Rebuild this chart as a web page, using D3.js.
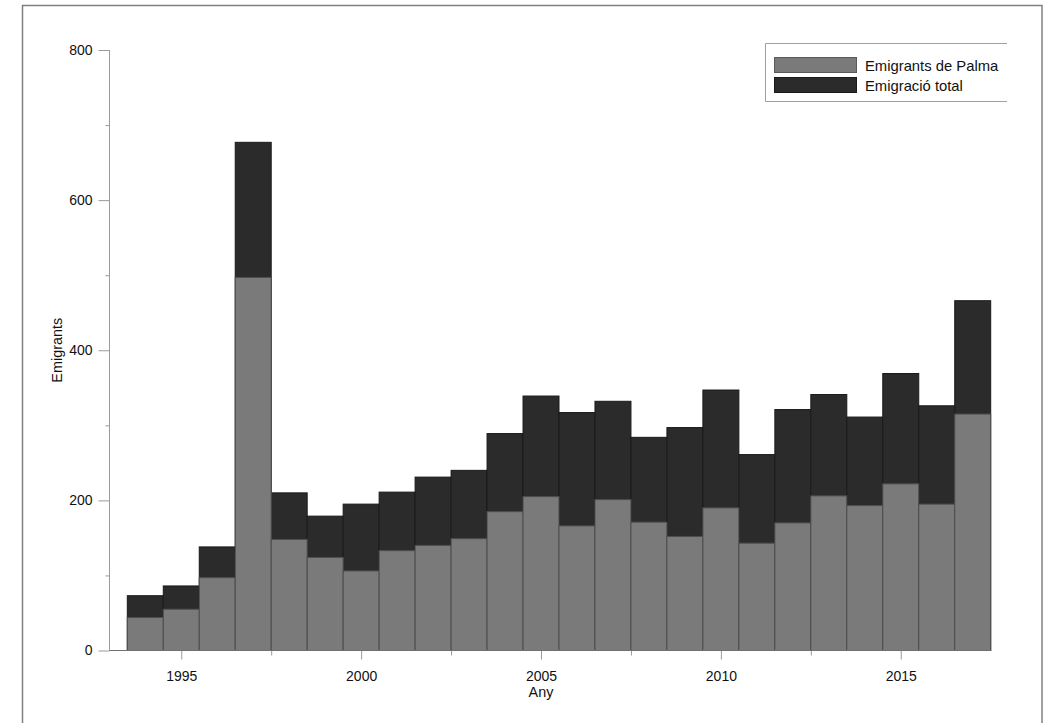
<!DOCTYPE html>
<html>
<head>
<meta charset="utf-8">
<script src="https://cdn.jsdelivr.net/npm/d3@7/dist/d3.min.js"></script>
<style>
  html, body { margin: 0; padding: 0; background: #fff; }
  svg { display: block; font-family: "Liberation Sans", Arial, sans-serif; }
</style>
</head>
<body>
<svg id="chart" width="1046" height="723"></svg>
<script>
// ---- data ----
const years = [1994,1995,1996,1997,1998,1999,2000,2001,2002,2003,2004,2005,2006,2007,2008,2009,2010,2011,2012,2013,2014,2015,2016,2017];
const totalEmigration = [73,86,138,677,210,179,195,211,231,240,289,339,317,332,284,297,347,261,321,341,311,369,326,466];
const palmaEmigrants = [44,55,97,497,148,124,106,133,140,149,185,205,166,201,171,152,190,143,170,206,193,222,195,315];
const seriesNames = ["Emigrants de Palma", "Emigració total"];
const yTicks = [0, 200, 400, 600, 800];
const yMinorTicks = [100, 300, 500, 700];
const xTicks = [1995, 2000, 2005, 2010, 2015];
const xMinorTicks = [1997.5, 2002.5, 2007.5, 2012.5];
const yTitle = "Emigrants";
const xTitle = "Any";

const colPalma = "#7a7a7a";
const colTotal = "#2b2b2b";
const axisCol = "#9a9a9a";

const svg = d3.select("#chart");

// outer frame
svg.append("rect")
  .attr("x", 22.5).attr("y", 5.5)
  .attr("width", 1019.5).attr("height", 730)
  .attr("fill", "none").attr("stroke", "#808080").attr("stroke-width", 1.5);

const x = d3.scaleLinear().domain([1993.5, 2017.5]).range([127.3, 990.7]);
const y = d3.scaleLinear().domain([0, 800]).range([650.5, 50]);

// bars: total (dark) then Palma (grey) overlaid
const g = svg.append("g");
g.selectAll("rect.total")
  .data(years.map((yr, i) => ({yr, v: totalEmigration[i]})))
  .join("rect").attr("class", "total")
  .attr("x", d => x(d.yr - 0.5)).attr("width", d => x(d.yr + 0.5) - x(d.yr - 0.5))
  .attr("y", d => y(d.v)).attr("height", d => y(0) - y(d.v))
  .attr("fill", colTotal).attr("stroke", "#1a1a1a").attr("stroke-width", 1);

g.selectAll("rect.palma")
  .data(years.map((yr, i) => ({yr, v: palmaEmigrants[i]})))
  .join("rect").attr("class", "palma")
  .attr("x", d => x(d.yr - 0.5)).attr("width", d => x(d.yr + 0.5) - x(d.yr - 0.5))
  .attr("y", d => y(d.v)).attr("height", d => y(0) - y(d.v))
  .attr("fill", colPalma).attr("stroke", "#4e4e4e").attr("stroke-width", 1);

// y axis
const yAxisX = 109.5;
const yAx = svg.append("g").attr("transform", `translate(${yAxisX},0)`)
  .call(d3.axisLeft(y).tickValues(yTicks).tickSize(11).tickPadding(6).tickFormat(d3.format("d")));
yAx.select(".domain").remove();
yAx.selectAll(".tick line").attr("stroke", axisCol);
yAx.selectAll(".tick text").attr("fill", "#111").style("font-size", "14px").style("font-family", "'Liberation Sans', Arial, sans-serif");
const yMin = svg.append("g").attr("transform", `translate(${yAxisX},0)`)
  .call(d3.axisLeft(y).tickValues(yMinorTicks).tickSize(4).tickFormat(""));
yMin.select(".domain").remove();
yMin.selectAll(".tick line").attr("stroke", axisCol);
svg.append("line")
  .attr("x1", yAxisX).attr("x2", yAxisX).attr("y1", y(800)).attr("y2", y(0))
  .attr("stroke", axisCol).attr("stroke-width", 1);

// x axis
const xAx = svg.append("g").attr("transform", `translate(0,${y(0)})`)
  .call(d3.axisBottom(x).tickValues(xTicks).tickSize(9).tickPadding(12).tickFormat(d3.format("d")));
xAx.select(".domain").remove();
xAx.selectAll(".tick line").attr("stroke", axisCol);
xAx.selectAll(".tick text").attr("fill", "#111").style("font-size", "14px").style("font-family", "'Liberation Sans', Arial, sans-serif");
const xMin = svg.append("g").attr("transform", `translate(0,${y(0)})`)
  .call(d3.axisBottom(x).tickValues(xMinorTicks).tickSize(5).tickFormat(""));
xMin.select(".domain").remove();
xMin.selectAll(".tick line").attr("stroke", axisCol);
svg.append("line")
  .attr("x1", yAxisX).attr("x2", x(2017.5)).attr("y1", y(0)).attr("y2", y(0))
  .attr("stroke", "#707070").attr("stroke-width", 1);

// axis titles
svg.append("text")
  .attr("transform", `translate(62,${(y(0) + y(800)) / 2}) rotate(-90)`)
  .attr("text-anchor", "middle").attr("fill", "#111")
  .style("font-size", "14.4px").text(yTitle);
svg.append("text")
  .attr("x", x(2005)).attr("y", 697)
  .attr("text-anchor", "middle").attr("fill", "#111")
  .style("font-size", "14.4px").text(xTitle);

// legend
const lg = svg.append("g");
lg.append("path")
  .attr("d", "M1007,43.5 L765.5,43.5 L765.5,101.5 L1007,101.5")
  .attr("fill", "none").attr("stroke", "#a0a0a0").attr("stroke-width", 1);
const legendCols = [colPalma, colTotal];
seriesNames.forEach((name, i) => {
  lg.append("rect")
    .attr("x", 774.5).attr("y", 57.5 + i * 20).attr("width", 82).attr("height", 15)
    .attr("fill", legendCols[i]).attr("stroke", i === 0 ? "#5a5a5a" : "#1a1a1a");
  lg.append("text")
    .attr("x", 865).attr("y", 70.5 + i * 20)
    .attr("fill", "#111").style("font-size", "14.8px").text(name);
});
</script>
</body>
</html>
